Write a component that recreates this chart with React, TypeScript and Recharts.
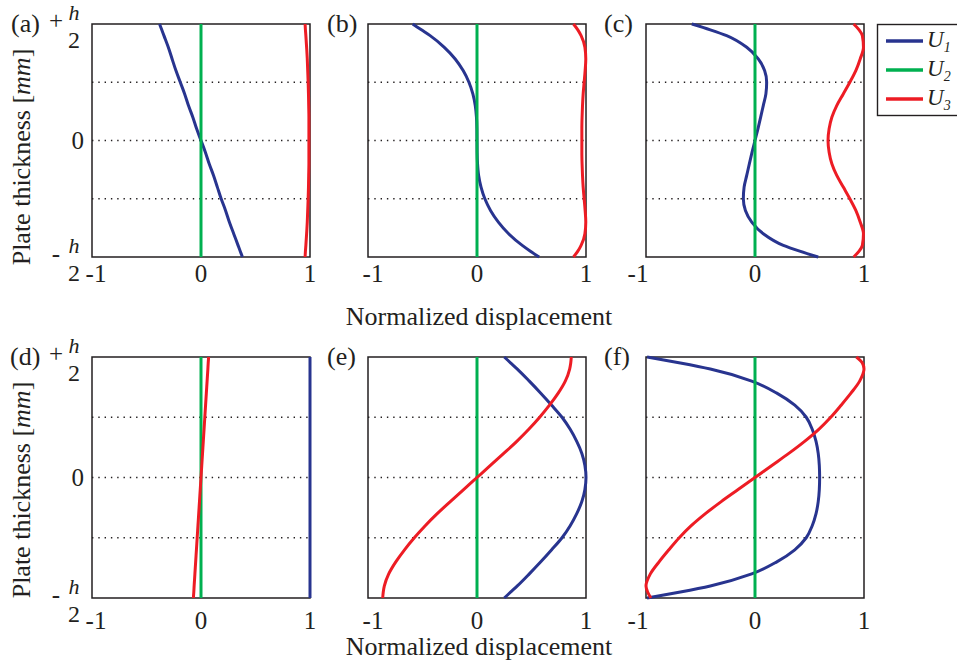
import React from "react";
import { LineChart, Line, XAxis, YAxis, ReferenceLine, ReferenceArea } from "recharts";

// normalised position through the plate, +1 = +h/2, -1 = -h/2
const thickness = [1, 0.95, 0.9, 0.8, 0.7, 0.6, 0.5, 0.4, 0.3, 0.2, 0.1, 0, -0.1, -0.2, -0.3, -0.4, -0.5, -0.6, -0.7, -0.8, -0.9, -0.95, -1];
const xTicks = [-1, 0, 1];
const yTicks = [-1, 0, 1];
const gridLevels = [0.5, 0, -0.5];
const panelLabels = ["(a)", "(b)", "(c)", "(d)", "(e)", "(f)"];
const legendNames = ["1", "2", "3"];

const flat = [0, 0, 0, 0, 0, 0, 0, 0, 0, 0, 0, 0, 0, 0, 0, 0, 0, 0, 0, 0, 0, 0, 0];

const aU1 = [-0.38, -0.36, -0.34, -0.3, -0.265, -0.23, -0.19, -0.15, -0.115, -0.075, -0.04, 0, 0.04, 0.075, 0.115, 0.15, 0.185, 0.225, 0.26, 0.3, 0.34, 0.36, 0.38];
const aU3 = [0.955, 0.958, 0.962, 0.969, 0.975, 0.979, 0.983, 0.986, 0.988, 0.99, 0.99, 0.99, 0.99, 0.99, 0.988, 0.986, 0.983, 0.979, 0.975, 0.969, 0.962, 0.958, 0.955];

const bU1 = [-0.59, -0.51, -0.43, -0.3, -0.2, -0.127, -0.074, -0.038, -0.016, -0.005, -0.001, 0, 0.001, 0.005, 0.015, 0.037, 0.072, 0.124, 0.196, 0.29, 0.415, 0.49, 0.57];
const bU3 = [0.885, 0.925, 0.955, 0.99, 0.998, 0.992, 0.983, 0.974, 0.968, 0.964, 0.962, 0.962, 0.962, 0.964, 0.968, 0.974, 0.983, 0.992, 0.998, 0.99, 0.955, 0.925, 0.885];

const cU1 = [-0.58, -0.41, -0.26, -0.076, 0.03, 0.088, 0.107, 0.1, 0.076, 0.052, 0.027, 0, -0.027, -0.052, -0.076, -0.1, -0.107, -0.088, -0.03, 0.076, 0.26, 0.41, 0.58];
const cU3 = [0.905, 0.955, 0.985, 0.995, 0.965, 0.925, 0.87, 0.81, 0.75, 0.705, 0.68, 0.67, 0.68, 0.705, 0.75, 0.81, 0.87, 0.925, 0.965, 0.995, 0.985, 0.955, 0.905];

const dU1 = [1, 1, 1, 1, 1, 1, 1, 1, 1, 1, 1, 1, 1, 1, 1, 1, 1, 1, 1, 1, 1, 1, 1];
const dU3 = [0.07, 0.066, 0.063, 0.056, 0.049, 0.042, 0.035, 0.028, 0.021, 0.014, 0.007, 0, -0.007, -0.014, -0.021, -0.028, -0.035, -0.042, -0.049, -0.056, -0.063, -0.066, -0.07];

const eU1 = [0.25, 0.31, 0.37, 0.48, 0.585, 0.685, 0.78, 0.855, 0.915, 0.962, 0.99, 1, 0.99, 0.962, 0.915, 0.855, 0.78, 0.685, 0.585, 0.48, 0.37, 0.31, 0.25];
const eU3 = [0.865, 0.86, 0.85, 0.81, 0.745, 0.665, 0.575, 0.475, 0.365, 0.245, 0.123, 0, -0.123, -0.245, -0.365, -0.475, -0.575, -0.665, -0.745, -0.81, -0.85, -0.86, -0.865];

const fU1 = [-0.99, -0.685, -0.41, -0.03, 0.2, 0.365, 0.47, 0.525, 0.56, 0.58, 0.59, 0.593, 0.59, 0.58, 0.56, 0.525, 0.47, 0.365, 0.2, -0.03, -0.41, -0.685, -0.99];
const fU3 = [0.93, 0.985, 1, 0.96, 0.88, 0.79, 0.695, 0.585, 0.455, 0.31, 0.155, 0, -0.155, -0.31, -0.455, -0.585, -0.695, -0.79, -0.88, -0.96, -1, -0.985, -0.955];

const BLUE = "#28348f";
const GREEN = "#00b050";
const RED = "#ed1c24";
const INK = "#231f20";
const FONT = "'Liberation Serif', 'Times New Roman', serif";

const rows = (u1: number[], u2: number[], u3: number[]) =>
  thickness.map((y, i) => ({ y, u1: u1[i], u2: u2[i], u3: u3[i] }));

// the "-1" label sits a little off its tick in the original, differently per column
const minusShift = [4, 5, -8];

const panels = [
  { data: rows(aU1, flat, aU3), left: 92, top: 24, h: 233, col: 0, gap: 7 },
  { data: rows(bU1, flat, bU3), left: 368, top: 24, h: 233, col: 1, gap: 7 },
  { data: rows(cU1, flat, cU3), left: 646, top: 24, h: 233, col: 2, gap: 7 },
  { data: rows(dU1, flat, dU3), left: 92, top: 357, h: 241, col: 0, gap: 13 },
  { data: rows(eU1, flat, eU3), left: 368, top: 357, h: 241, col: 1, gap: 13 },
  { data: rows(fU1, flat, fU3), left: 646, top: 357, h: 241, col: 2, gap: 13 },
];

function ThicknessTick(props: any) {
  const { x, y, payload } = props;
  const v = payload.value;
  if (v === 0) {
    return (
      <text x={x} y={y + 8.5} textAnchor="end" fontSize={25} fontFamily={FONT} fill={INK}>
        0
      </text>
    );
  }
  return (
    <g fill={INK} fontFamily={FONT}>
      <text x={x - 28} y={y + 5} textAnchor="middle" fontSize={25}>
        {v > 0 ? "+" : "-"}
      </text>
      <text x={x - 10} y={y - 4.5} textAnchor="middle" fontSize={22} fontStyle="italic">
        h
      </text>
      <text x={x - 10} y={y + 24} textAnchor="middle" fontSize={24}>
        2
      </text>
    </g>
  );
}

function DisplacementTick(props: any) {
  const { x, y, payload, col } = props;
  const v = payload.value;
  return (
    <text
      x={x + (v === -1 ? minusShift[col] : 0)}
      y={y + 17.5}
      textAnchor="middle"
      fontSize={25}
      fontFamily={FONT}
      fill={INK}
    >
      {v}
    </text>
  );
}

function Panel({ data, left, top, h, col, gap }: any) {
  const first = col === 0;
  const ML = first ? 92 : 20;
  const MT = 30;
  const MR = 10;
  const XH = 40;
  const W = ML + 218 + MR;
  const H = MT + h + XH;
  return (
    <div style={{ position: "absolute", left: left - ML, top: top - MT }}>
      <LineChart
        layout="vertical"
        width={W}
        height={H}
        data={data}
        margin={{ top: MT, right: MR, bottom: 0, left: 0 }}
      >
        <XAxis
          type="number"
          domain={[-1, 1]}
          ticks={xTicks}
          interval={0}
          axisLine={false}
          tickLine={false}
          tickSize={0}
          tickMargin={gap}
          height={XH}
          tick={<DisplacementTick col={col} />}
        />
        <YAxis
          type="number"
          dataKey="y"
          domain={[-1, 1]}
          reversed
          ticks={yTicks}
          interval={0}
          axisLine={false}
          tickLine={false}
          tickSize={0}
          tickMargin={8}
          width={ML}
          tick={first ? <ThicknessTick /> : false}
        />
        {gridLevels.map((g) => (
          <ReferenceLine key={g} y={g} stroke={INK} strokeWidth={1.3} strokeDasharray="1.4 4.9" />
        ))}
        <ReferenceArea x1={-1} x2={1} y1={-1} y2={1} fill="none" fillOpacity={0} stroke={INK} strokeWidth={1.5} />
        <Line dataKey="u1" type="monotone" stroke={BLUE} strokeWidth={3} dot={false} isAnimationActive={false} />
        <Line dataKey="u2" type="monotone" stroke={GREEN} strokeWidth={3} dot={false} isAnimationActive={false} />
        <Line dataKey="u3" type="monotone" stroke={RED} strokeWidth={3} dot={false} isAnimationActive={false} />
      </LineChart>
    </div>
  );
}

const labelPos = [
  [11, 32],
  [327, 32],
  [604, 32],
  [10, 365],
  [327, 365],
  [604, 365],
];

export default function App() {
  const legendColors = [BLUE, GREEN, RED];
  return (
    <div style={{ position: "absolute", left: 0, top: 0, width: 957, height: 666, background: "#fff", overflow: "hidden" }}>
      {panels.map((p, i) => (
        <Panel key={i} {...p} />
      ))}
      <svg width={957} height={666} style={{ position: "absolute", left: 0, top: 0, pointerEvents: "none" }}>
        <g fontFamily={FONT} fill={INK}>
          {panelLabels.map((t, i) => (
            <text key={t} x={labelPos[i][0]} y={labelPos[i][1]} fontSize={26}>
              {t}
            </text>
          ))}
          <text transform="translate(30,157) rotate(-90)" textAnchor="middle" fontSize={26}>
            Plate thickness [<tspan fontStyle="italic">mm</tspan>]
          </text>
          <text transform="translate(30,490) rotate(-90)" textAnchor="middle" fontSize={26}>
            Plate thickness [<tspan fontStyle="italic">mm</tspan>]
          </text>
          <text x={479} y={325} textAnchor="middle" fontSize={26}>
            Normalized displacement
          </text>
          <text x={479} y={655} textAnchor="middle" fontSize={26}>
            Normalized displacement
          </text>
        </g>
        <rect x={877.5} y={24.5} width={90} height={91} fill="#fff" stroke={INK} strokeWidth={1.4} />
        {legendNames.map((n, i) => (
          <g key={n}>
            <line x1={886} x2={923} y1={41 + i * 29} y2={41 + i * 29} stroke={legendColors[i]} strokeWidth={3.5} />
            <text x={927} y={47 + i * 29} fontFamily={FONT} fontStyle="italic" fontSize={23} fill={INK}>
              U
              <tspan dy={5} fontSize={14}>
                {n}
              </tspan>
            </text>
          </g>
        ))}
      </svg>
    </div>
  );
}
